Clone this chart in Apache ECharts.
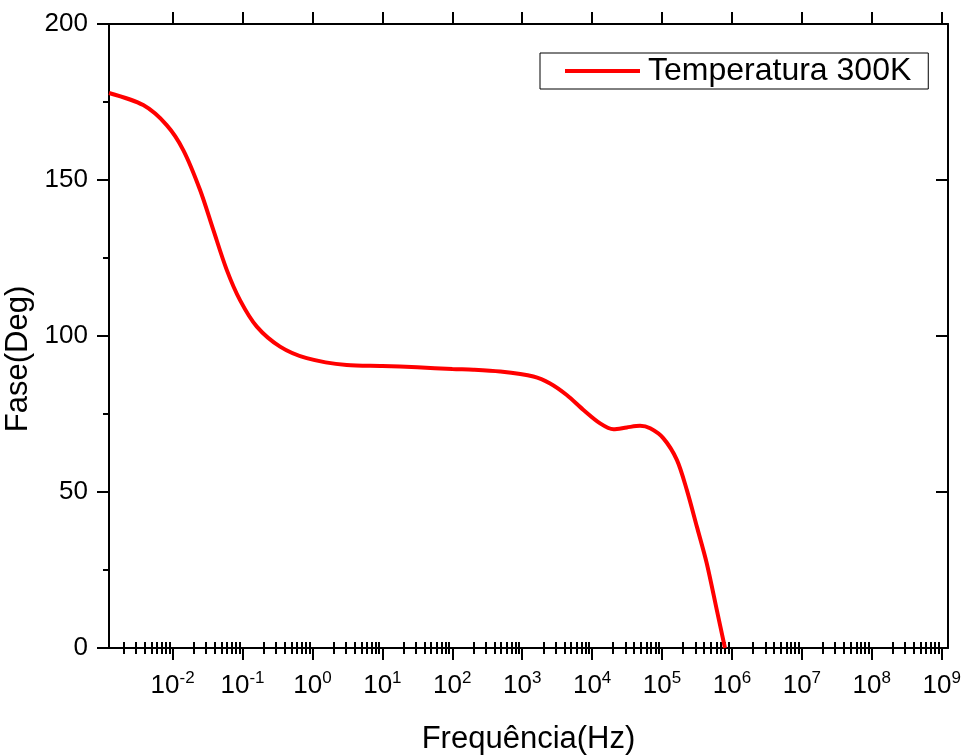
<!DOCTYPE html>
<html>
<head>
<meta charset="utf-8">
<script src="https://cdn.jsdelivr.net/npm/echarts@6/dist/echarts.min.js"></script>
<style>html,body{margin:0;padding:0;background:#fff;}#c{width:965px;height:756px;}</style>
</head>
<body>
<div id="c"></div>
<script>
// Frequency in Hz
var freqHz = [0.00123, 0.00380, 0.00822, 0.0142, 0.0247, 0.0382, 0.0594, 0.092, 0.160, 0.344, 0.828, 3.09, 10, 31.6, 100, 200, 483, 1445, 2506, 4335, 7516, 13000, 20180, 31330, 48530, 67610, 104700, 162900, 226500, 314800, 436500, 606700, 794000];
// Phase in degrees
var phaseDeg = [177.9, 174.0, 167.6, 159.6, 146.8, 134.0, 121.2, 111.5, 103.0, 96.6, 92.9, 90.7, 90.4, 90.0, 89.4, 89.2, 88.6, 87.0, 84.8, 81.1, 76.3, 72.0, 70.1, 70.7, 71.2, 70.4, 67.2, 60.3, 50.6, 38.9, 27.1, 12.2, 0];
var decadeExponents = [-2, -1, 0, 1, 2, 3, 4, 5, 6, 7, 8, 9];
var yTicks = [0, 50, 100, 150, 200];
var seriesName = 'Temperatura 300K';
var xTitle = 'Frequência(Hz)';
var yTitle = 'Fase(Deg)';

var xMin = -2.91, xMax = 9.09;
var minorVals = [];
for (var d = -3; d <= 9; d++) {
  for (var k = 2; k <= 9; k++) {
    var v = d + Math.log10(k);
    if (v > xMin && v < xMax) minorVals.push(v);
  }
}
var data = freqHz.map(function (f, i) { return [Math.log10(f), phaseDeg[i]]; });
var font = '"Liberation Sans", Arial, sans-serif';
var lineStyle = { color: '#000', width: 2 };

var chart = echarts.init(document.getElementById('c'), null, { renderer: 'canvas' });
chart.setOption({
  backgroundColor: '#fff',
  animation: false,
  grid: { left: 109, right: 17, top: 24, bottom: 108, containLabel: false, outerBoundsMode: 'none' },
  legend: {
    data: [{ name: seriesName, icon: 'rect' }],
    left: 540, top: 53,
    orient: 'vertical',
    backgroundColor: '#fff',
    borderColor: '#000', borderWidth: 1, borderRadius: 0,
    padding: [2, 17, 2, 25],
    itemWidth: 75, itemHeight: 4,
    itemStyle: { color: '#ff0000' },
    textStyle: { fontFamily: font, fontSize: 32, color: '#000', padding: [0, 0, 0, 3] }
  },
  xAxis: [
    {
      type: 'value', min: xMin, max: xMax, position: 'bottom',
      name: xTitle, nameLocation: 'middle', nameGap: 76,
      nameTextStyle: { fontFamily: font, fontSize: 31, color: '#000' },
      axisLine: { show: true, onZero: false, lineStyle: lineStyle },
      axisTick: { show: true, inside: false, length: 12, lineStyle: lineStyle, customValues: decadeExponents },
      axisLabel: {
        show: true, margin: 22, customValues: decadeExponents,
        formatter: function (v) { return '{b|10}{s|' + Math.round(v) + '}'; },
        rich: {
          b: { fontFamily: font, fontSize: 26, color: '#000' },
          s: { fontFamily: font, fontSize: 17, color: '#000', padding: [0, 0, 14, 0] }
        }
      },
      splitLine: { show: false }
    },
    {
      type: 'value', min: xMin, max: xMax, position: 'bottom',
      axisLine: { show: false },
      axisTick: { show: true, inside: false, length: 6, lineStyle: lineStyle, customValues: minorVals },
      axisLabel: { show: false }, splitLine: { show: false }
    },
    {
      type: 'value', min: xMin, max: xMax, position: 'top',
      axisLine: { show: true, onZero: false, lineStyle: lineStyle },
      axisTick: { show: true, inside: false, length: 12, lineStyle: lineStyle, customValues: decadeExponents },
      axisLabel: { show: false }, splitLine: { show: false }
    },
    {
      type: 'value', min: xMin, max: xMax, position: 'top',
      axisLine: { show: false },
      axisTick: { show: true, inside: false, length: 6, lineStyle: lineStyle, customValues: minorVals },
      axisLabel: { show: false }, splitLine: { show: false }
    }
  ],
  yAxis: [
    {
      type: 'value', min: 0, max: 200, interval: 50, position: 'left',
      name: yTitle, nameLocation: 'middle', nameGap: 69, nameRotate: 90,
      nameTextStyle: { fontFamily: font, fontSize: 31, color: '#000', padding: [0, 46, 0, 0] },
      axisLine: { show: true, onZero: false, lineStyle: lineStyle },
      axisTick: { show: true, inside: false, length: 12, lineStyle: lineStyle },
      minorTick: { show: true, splitNumber: 2, length: 6, lineStyle: lineStyle },
      axisLabel: { show: true, margin: 21, fontFamily: font, fontSize: 26, color: '#000' },
      splitLine: { show: false }, minorSplitLine: { show: false }
    },
    {
      type: 'value', min: 0, max: 200, interval: 50, position: 'right',
      axisLine: { show: true, onZero: false, lineStyle: lineStyle },
      axisTick: { show: true, inside: true, length: 12, lineStyle: lineStyle },
      axisLabel: { show: false }, splitLine: { show: false }
    }
  ],
  series: [{
    name: seriesName, type: 'line', xAxisIndex: 0, yAxisIndex: 0,
    data: data, smooth: 0.3, symbol: 'none', showSymbol: false,
    lineStyle: { color: '#ff0000', width: 4 },
    itemStyle: { color: '#ff0000' },
    clip: true
  }]
});
</script>
</body>
</html>
